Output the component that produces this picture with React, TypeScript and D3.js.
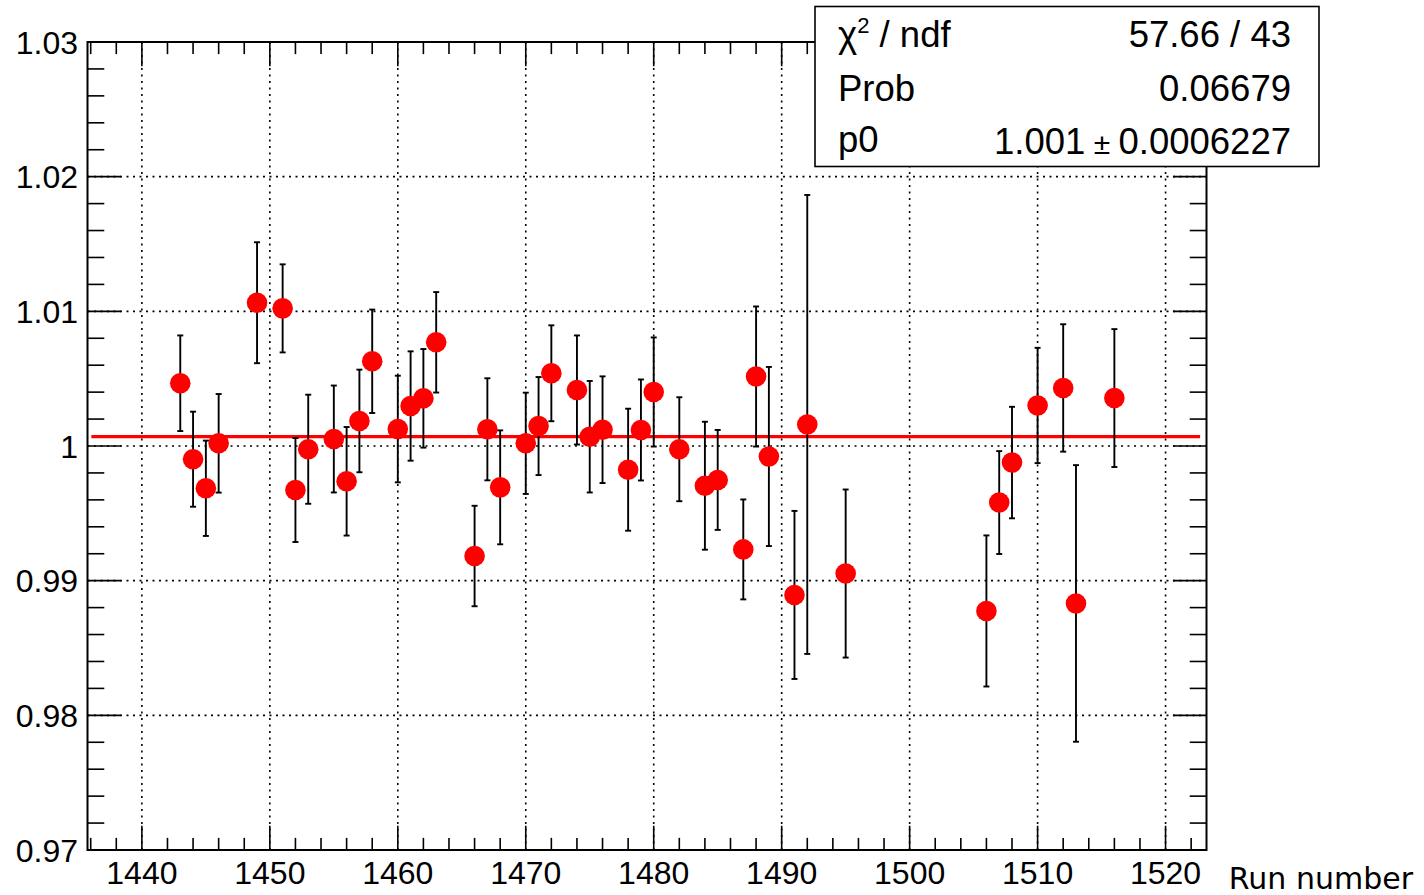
import * as d3 from "d3";

// run numbers and fitted ratio values
const runs = [
  1443, 1444, 1445, 1446, 1449, 1451, 1452, 1453, 1455, 1456, 1457, 1458,
  1460, 1461, 1462, 1463, 1466, 1467, 1468, 1470, 1471, 1472, 1474, 1475,
  1476, 1478, 1479, 1480, 1482, 1484, 1485, 1487, 1488, 1489, 1491, 1492,
  1495, 1506, 1507, 1508, 1510, 1512, 1513, 1516,
];
const values = [
  1.00466, 0.99902, 0.99686, 1.0002, 1.01064, 1.01022, 0.99673, 0.99976,
  1.00052, 0.99738, 1.00186, 1.00629, 1.00126, 1.00297, 1.00354, 1.0077,
  0.99183, 1.00124, 0.99693, 1.0002, 1.00148, 1.0054, 1.00416, 1.00069,
  1.00121, 0.99824, 1.00119, 1.00401, 0.99976, 0.99705, 0.99748, 0.99232,
  1.00516, 0.99922, 0.98894, 1.0016, 0.99053, 0.98775, 0.9958, 0.99877,
  1.00301, 1.00431, 0.98831, 1.00356,
];
const errors = [
  0.00355, 0.00353, 0.00354, 0.00366, 0.00449, 0.00327, 0.00386, 0.00405,
  0.00397, 0.00403, 0.00381, 0.00384, 0.00396, 0.00406, 0.00366, 0.00373,
  0.00373, 0.00379, 0.00423, 0.00376, 0.00364, 0.00356, 0.00405, 0.00414,
  0.00396, 0.00453, 0.00375, 0.00405, 0.00386, 0.00475, 0.00371, 0.00371,
  0.0052, 0.00665, 0.00624, 0.01704, 0.00624, 0.00561, 0.00382, 0.00414,
  0.00428, 0.00473, 0.01027, 0.00512,
];

const xTickValues = [1440, 1450, 1460, 1470, 1480, 1490, 1500, 1510, 1520];
const yTickValues = [0.97, 0.98, 0.99, 1.0, 1.01, 1.02, 1.03];
const yTickLabels = ["0.97", "0.98", "0.99", "1", "1.01", "1.02", "1.03"];

const fitValue = 1.0007;
const fitRange = [1436.05, 1522.7];

const statsLabels = ["χ2 / ndf", "Prob", "p0"];
const statsValues = ["57.66 / 43", "0.06679", "1.001 ± 0.0006227"];

const xDomain = [1435.75, 1523.2];
const yDomain = [0.97, 1.03];

const W = 1424;
const H = 895;
const frame = { left: 87.5, right: 1206.5, top: 42, bottom: 850 };
const font = "'Liberation Sans', Arial, Helvetica, sans-serif";

export default function App() {
  const x = d3.scaleLinear().domain(xDomain).range([frame.left, frame.right]);
  const y = d3.scaleLinear().domain(yDomain).range([frame.bottom, frame.top]);

  const plotW = frame.right - frame.left;
  const plotH = frame.bottom - frame.top;
  // ROOT style tick lengths: 3% of the other axis
  const xMajor = 0.03 * plotH;
  const yMajor = 0.03 * plotW;

  const xMinor = d3.range(1436, 1523, 2).filter((v) => v % 10 !== 0);
  const yMinor = d3
    .range(0, 31)
    .map((i) => 0.97 + i * 0.002)
    .filter((_, i) => i % 5 !== 0);

  const points = runs.map((r, i) => ({ run: r, v: values[i], e: errors[i] }));
  const gridDash = "2,4.5";
  const pm = statsValues[2].split(" ± ");

  return (
    <svg
      width={W}
      height={H}
      style={{ position: "absolute", left: 0, top: 0, background: "#fff" }}
      fontFamily={font}
    >
      <rect width={W} height={H} fill="#fff" />

      {/* grid */}
      <g stroke="#000" strokeWidth={1.6} strokeDasharray={gridDash}>
        {xTickValues.map((t) => (
          <line key={"gx" + t} x1={x(t)} x2={x(t)} y1={frame.top} y2={frame.bottom} />
        ))}
        {yTickValues.map((t) => (
          <line key={"gy" + t} x1={frame.left} x2={frame.right} y1={y(t)} y2={y(t)} />
        ))}
      </g>

      {/* ticks on all four sides */}
      <g stroke="#000" strokeWidth={1.6}>
        {xTickValues.map((t) => (
          <g key={"tx" + t}>
            <line x1={x(t)} x2={x(t)} y1={frame.bottom} y2={frame.bottom - xMajor} />
            <line x1={x(t)} x2={x(t)} y1={frame.top} y2={frame.top + xMajor} />
          </g>
        ))}
        {xMinor.map((t) => (
          <g key={"mx" + t}>
            <line x1={x(t)} x2={x(t)} y1={frame.bottom} y2={frame.bottom - xMajor / 2} />
            <line x1={x(t)} x2={x(t)} y1={frame.top} y2={frame.top + xMajor / 2} />
          </g>
        ))}
        {yTickValues.map((t) => (
          <g key={"ty" + t}>
            <line x1={frame.left} x2={frame.left + yMajor} y1={y(t)} y2={y(t)} />
            <line x1={frame.right} x2={frame.right - yMajor} y1={y(t)} y2={y(t)} />
          </g>
        ))}
        {yMinor.map((t) => (
          <g key={"my" + t}>
            <line x1={frame.left} x2={frame.left + yMajor / 2} y1={y(t)} y2={y(t)} />
            <line x1={frame.right} x2={frame.right - yMajor / 2} y1={y(t)} y2={y(t)} />
          </g>
        ))}
      </g>

      {/* fit line */}
      <line
        x1={x(fitRange[0])}
        x2={x(fitRange[1])}
        y1={y(fitValue)}
        y2={y(fitValue)}
        stroke="#ff0000"
        strokeWidth={3.2}
      />

      {/* error bars */}
      <g stroke="#000" strokeWidth={1.9}>
        {points.map((p) => {
          const cx = x(p.run);
          const top = y(p.v + p.e);
          const bot = y(p.v - p.e);
          return (
            <g key={"e" + p.run}>
              <line x1={cx} x2={cx} y1={top} y2={bot} />
              <line x1={cx - 3} x2={cx + 3} y1={top} y2={top} />
              <line x1={cx - 3} x2={cx + 3} y1={bot} y2={bot} />
            </g>
          );
        })}
      </g>

      {/* markers */}
      <g fill="#ff0000">
        {points.map((p) => (
          <circle key={"p" + p.run} cx={x(p.run)} cy={y(p.v)} r={10.3} />
        ))}
      </g>

      {/* frame */}
      <rect
        x={frame.left}
        y={frame.top}
        width={plotW}
        height={plotH}
        fill="none"
        stroke="#000"
        strokeWidth={2}
      />

      {/* axis labels */}
      <g fontSize={32} fill="#000">
        {xTickValues.map((t) => (
          <text key={"lx" + t} x={x(t)} y={884} textAnchor="middle">
            {t}
          </text>
        ))}
        {yTickValues.map((t, i) => (
          <text key={"ly" + t} x={78} y={y(t) + 11.5} textAnchor="end">
            {yTickLabels[i]}
          </text>
        ))}
      </g>
      <text
        x={1413}
        y={889}
        textAnchor="end"
        fontFamily="'DejaVu Sans', sans-serif"
        fontSize={30}
        fill="#000"
      >
        Run number
      </text>

      {/* stats box */}
      <rect x={815} y={6.5} width={504} height={160} fill="#fff" stroke="#000" strokeWidth={1.6} />
      <g fontSize={36.5} fill="#000">
        <text x={838} y={47}>
          {statsLabels[0].slice(0, 1)}
          <tspan fontSize={22} dy={-14}>
            {statsLabels[0].slice(1, 2)}
          </tspan>
          <tspan dy={14}>{statsLabels[0].slice(2)}</tspan>
        </text>
        <text x={838} y={101}>{statsLabels[1]}</text>
        <text x={838} y={152}>{statsLabels[2]}</text>
        <text x={1291} y={47} textAnchor="end">{statsValues[0]}</text>
        <text x={1291} y={101} textAnchor="end">{statsValues[1]}</text>
        <text x={1291} y={154} textAnchor="end">
          {pm[0]}
          <tspan fontSize={30}> ± </tspan>
          {pm[1]}
        </text>
      </g>
    </svg>
  );
}
